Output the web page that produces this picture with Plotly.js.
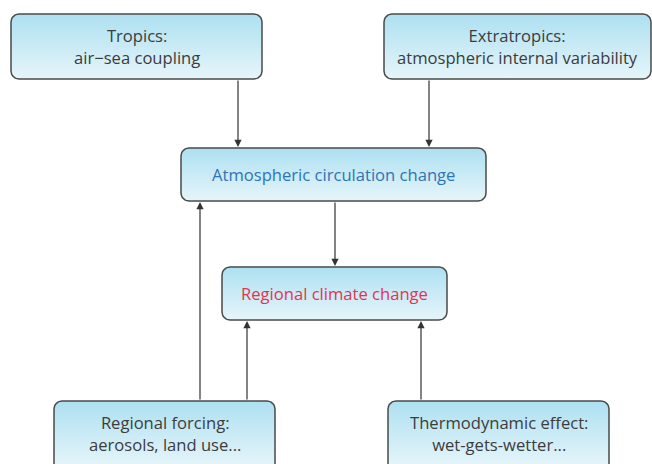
<!DOCTYPE html>
<html><head><meta charset="utf-8">
<script src="https://cdn.plot.ly/plotly-3.0.1.min.js"></script>
<style>html,body{margin:0;padding:0;background:#fff}</style>
</head><body>
<div id="chart" style="width:652px;height:464px"></div>
<script>
// Node labels
const nodeLabels = [
  "Tropics:<br>air\u2212sea coupling",
  "Extratropics:<br>atmospheric internal variability",
  "Atmospheric circulation change",
  "Regional climate change",
  "Regional forcing:<br>aerosols, land use...",
  "Thermodynamic effect:<br>wet-gets-wetter..."
];
const nodeTextColors = ["#3c3c3c","#3c3c3c","#2f74b5","#e3344f","#3c3c3c","#3c3c3c"];
// Edges: [from, to]
const edgeFrom = [0, 1, 2, 4, 4, 5];
const edgeTo   = [2, 2, 3, 2, 3, 3];

// Layout geometry (pixels)
const boxX0 = [11, 384, 181, 222, 54, 388];
const boxX1 = [262, 651, 486, 447, 275, 609];
const boxY0 = [14, 14, 148, 267, 401, 401];
const boxY1 = [79, 79, 201, 320, 480, 480];
const edgeX = [238, 429, 335, 200, 247, 421];

function roundRect(x0, y0, x1, y1, r) {
  const xs = [], ys = [];
  const corners = [[x1 - r, y0 + r, -90, 0], [x1 - r, y1 - r, 0, 90], [x0 + r, y1 - r, 90, 180], [x0 + r, y0 + r, 180, 270]];
  corners.forEach(([cx, cy, a0, a1]) => {
    for (let k = 0; k <= 8; k++) {
      const a = (a0 + (a1 - a0) * k / 8) * Math.PI / 180;
      xs.push(cx + r * Math.cos(a)); ys.push(cy + r * Math.sin(a));
    }
  });
  xs.push(xs[0]); ys.push(ys[0]);
  return [xs, ys];
}

const traces = [];
const annotations = [];
nodeLabels.forEach((lab, i) => {
  const [xs, ys] = roundRect(boxX0[i], boxY0[i], boxX1[i], boxY1[i], 8);
  const top = boxY0[i], bot = Math.min(boxY1[i], boxY0[i] + 66);
  traces.push({
    type: 'scatter', mode: 'lines', x: xs, y: ys, fill: 'toself',
    fillgradient: {type: 'vertical', start: top, stop: bot,
      colorscale: [[0, '#ade0f1'], [1, '#e6f5fa']]},
    line: {color: '#4a4a4a', width: 1.5}, hoverinfo: 'skip', showlegend: false
  });
  annotations.push({
    x: (boxX0[i] + boxX1[i]) / 2, y: i >= 4 ? 433 : (boxY0[i] + boxY1[i]) / 2,
    xref: 'x', yref: 'y', text: lab, showarrow: false,
    font: {family: 'Open Sans', size: 16.6, color: nodeTextColors[i]},
    align: 'center'
  });
});

edgeFrom.forEach((f, k) => {
  const t = edgeTo[k];
  const up = boxY0[f] > boxY0[t];
  const ystart = up ? boxY0[f] : boxY1[f];
  const yend = up ? boxY1[t] + 1 : boxY0[t] - 1;
  annotations.push({
    x: edgeX[k], y: yend, ax: edgeX[k], ay: ystart,
    xref: 'x', yref: 'y', axref: 'x', ayref: 'y',
    showarrow: true, arrowhead: 2, arrowsize: 1.2, arrowwidth: 1.2,
    arrowcolor: '#333', text: ''
  });
});

Plotly.newPlot('chart', traces, {
  width: 652, height: 464,
  margin: {l: 0, r: 0, t: 0, b: 0},
  paper_bgcolor: '#fff', plot_bgcolor: '#fff',
  xaxis: {range: [0, 652], visible: false, fixedrange: true},
  yaxis: {range: [464, 0], visible: false, fixedrange: true},
  annotations: annotations, showlegend: false
}, {displayModeBar: false, staticPlot: true});
</script>
</body></html>
